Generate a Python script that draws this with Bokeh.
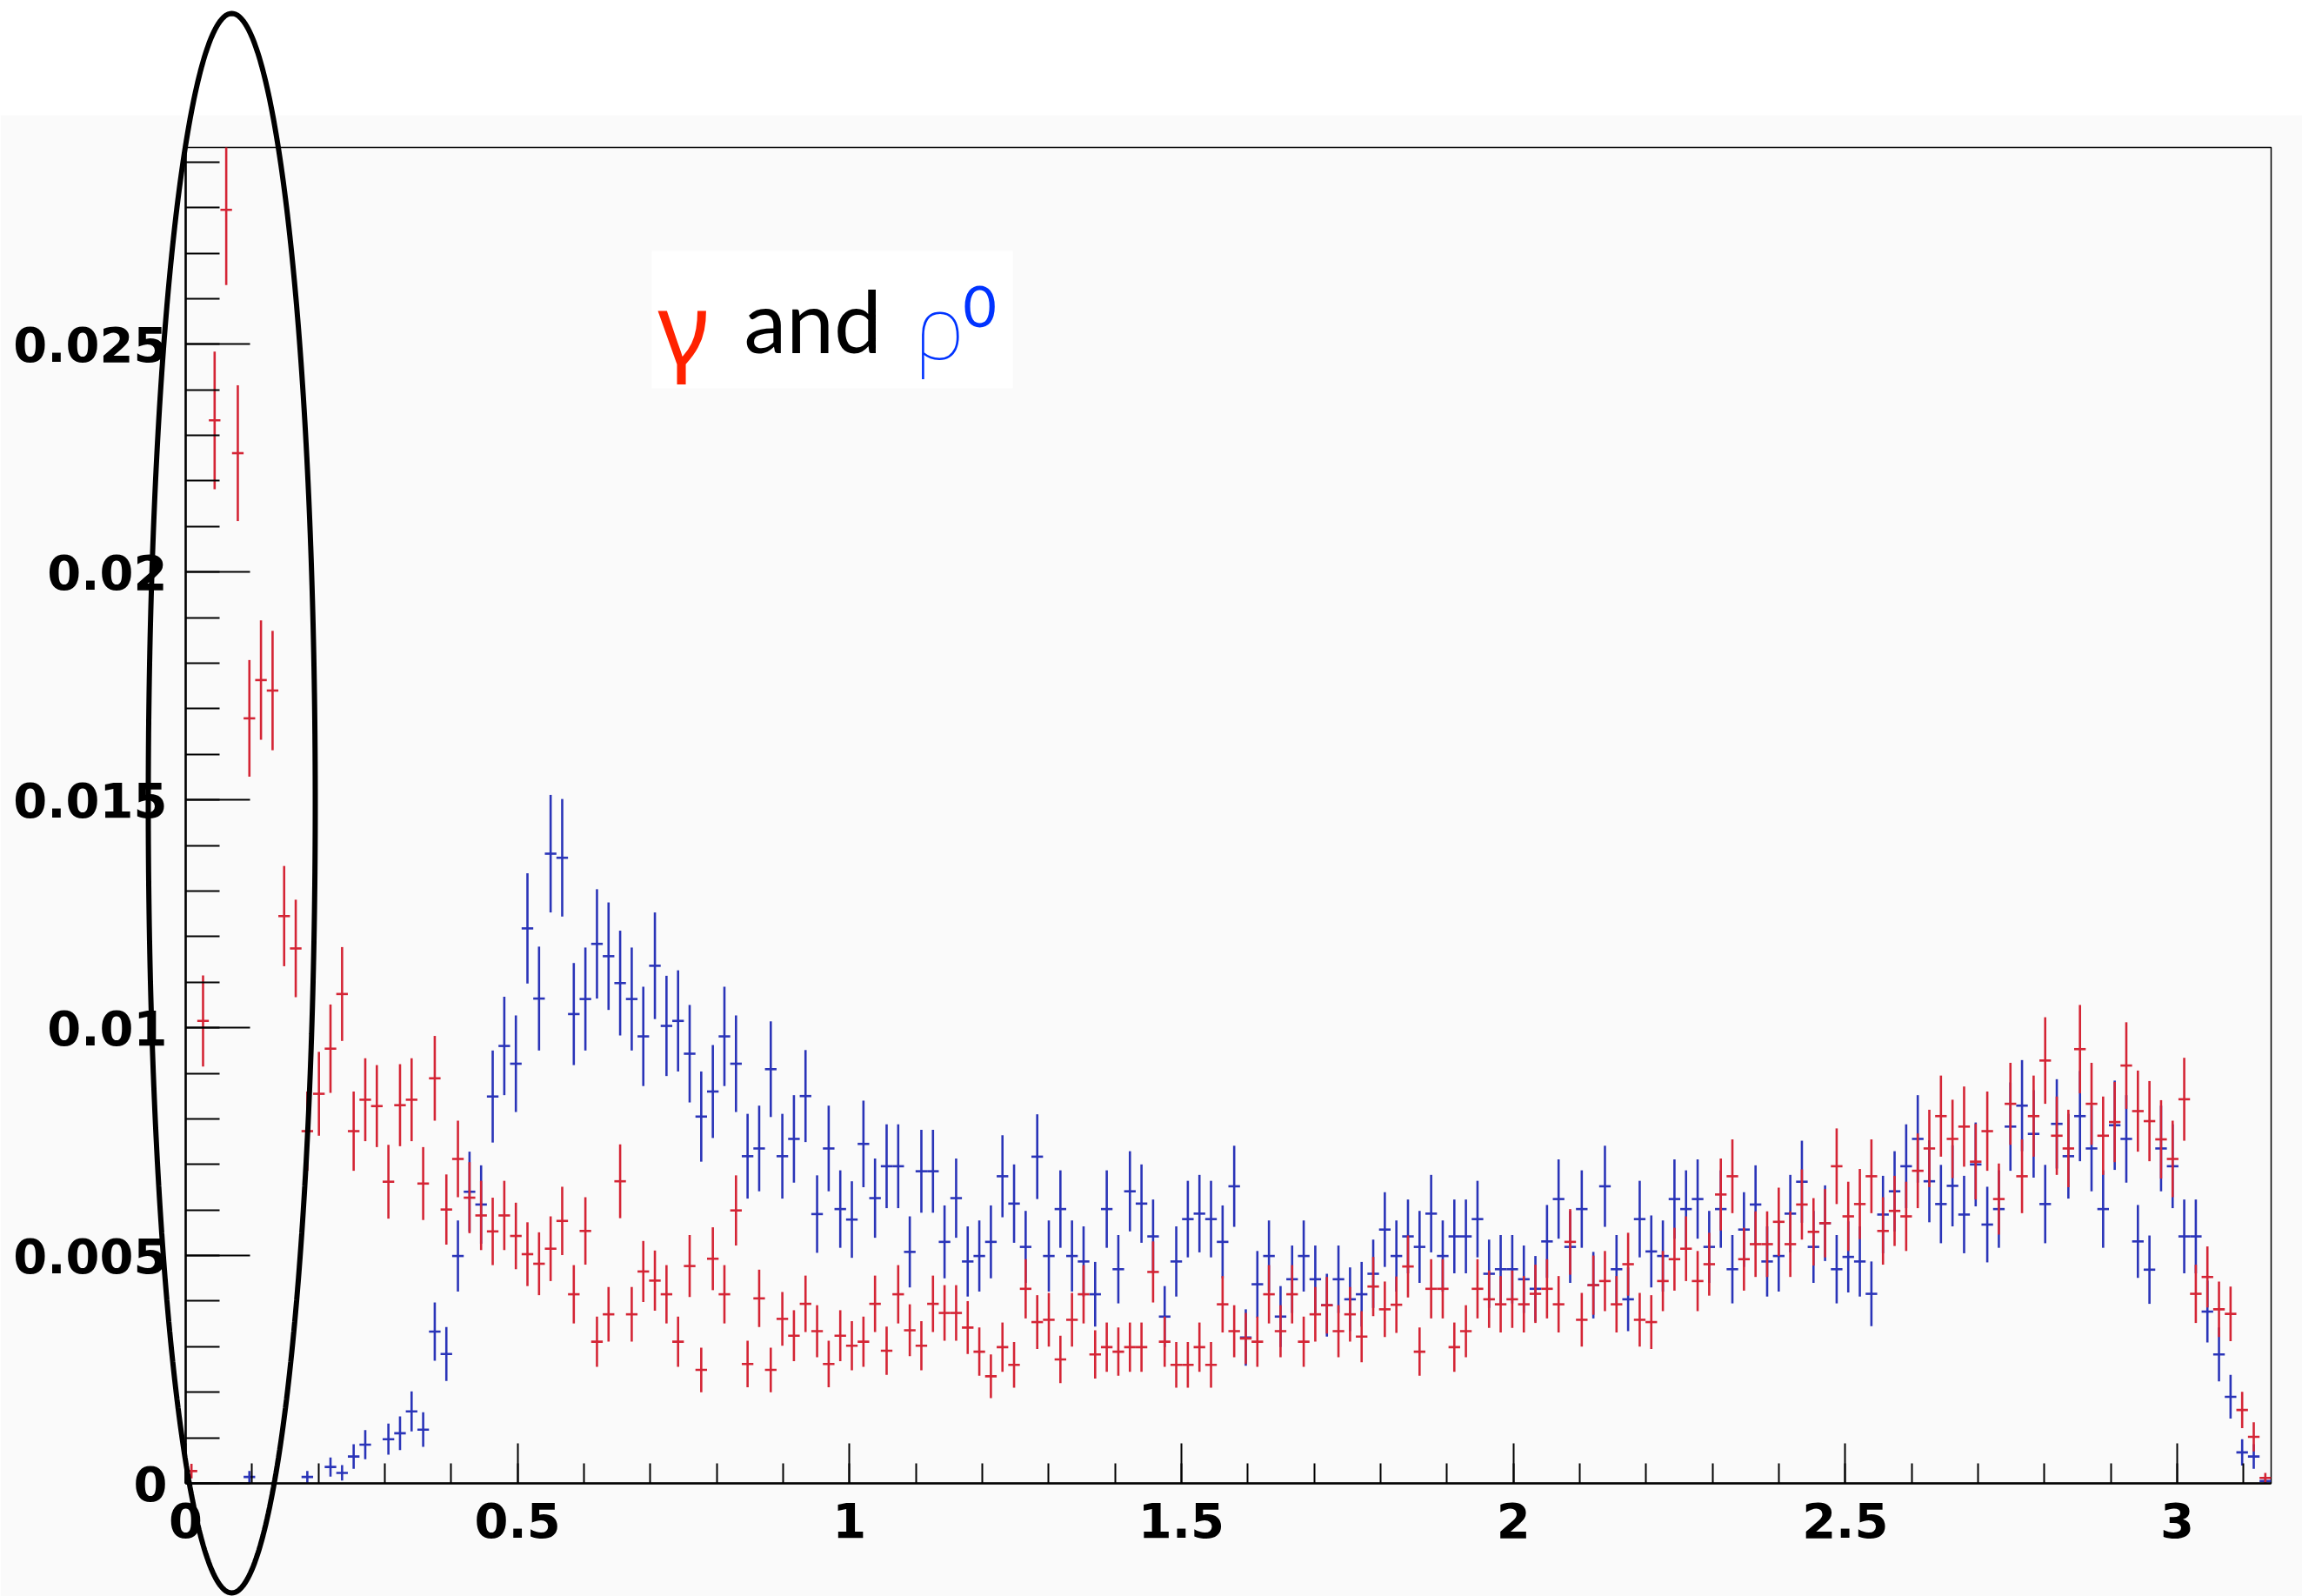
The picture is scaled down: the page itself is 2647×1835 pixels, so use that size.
import math
from bokeh.plotting import figure
from bokeh.models import (ColumnDataSource, Range1d, FixedTicker, CustomJSTickFormatter,
                          BoxAnnotation, Label)
from bokeh.embed import file_html
from bokeh.resources import INLINE

# ---------------- data (values and errors in units of 1e-5) ----------------
N_BINS = 180
X_MAX = math.pi
Y_MAX = 0.02932
UNIT = 1e-5

x_ticks = [0, 0.5, 1, 1.5, 2, 2.5, 3]
y_ticks = [0, 0.005, 0.01, 0.015, 0.02, 0.025]
x_minor = [round(0.1 * i, 1) for i in range(32)]
y_minor = [round(0.001 * i, 3) for i in range(30)]

gamma_vals = [
    27, 1015, 2333, 2795, 2261, 1679, 1763, 1740, 1245, 1174,
    773, 855, 954, 1074, 773, 842, 828, 662, 830, 842,
    658, 889, 601, 712, 627, 588, 553, 588, 543, 503,
    482, 515, 576, 415, 554, 311, 371, 663, 371, 465,
    445, 415, 311, 477, 249, 493, 415, 599, 262, 406,
    249, 361, 324, 394, 334, 262, 324, 302, 311, 394,
    291, 415, 336, 302, 394, 374, 374, 342, 289, 235,
    299, 260, 427, 354, 359, 272, 359, 415, 283, 299,
    289, 299, 299, 464, 311, 260, 260, 299, 260, 393,
    334, 318, 311, 415, 334, 415, 311, 371, 391, 334,
    371, 322, 432, 382, 392, 476, 289, 427, 427, 299,
    334, 427, 404, 393, 404, 393, 416, 427, 393, 530,
    359, 435, 444, 393, 481, 359, 354, 444, 492, 515,
    444, 481, 634, 674, 492, 525, 525, 574, 525, 612,
    552, 571, 696, 586, 613, 674, 554, 598, 586, 686,
    735, 806, 756, 783, 706, 773, 624, 833, 674, 806,
    928, 763, 735, 953, 833, 763, 793, 917, 817, 795,
    755, 712, 843, 416, 453, 382, 372, 161, 102, 12,
]
gamma_errs = [
    16, 100, 151, 165, 149, 128, 131, 131, 110, 107,
    87, 92, 97, 103, 87, 91, 90, 81, 90, 91,
    80, 93, 77, 84, 78, 76, 74, 76, 73, 70,
    69, 71, 75, 64, 74, 55, 60, 81, 60, 67,
    66, 64, 55, 68, 49, 69, 64, 77, 51, 63,
    49, 59, 56, 62, 57, 51, 56, 54, 55, 62,
    53, 64, 57, 54, 62, 61, 61, 58, 53, 48,
    54, 50, 65, 59, 59, 52, 59, 64, 53, 54,
    53, 54, 54, 67, 55, 50, 50, 54, 50, 62,
    57, 56, 55, 64, 57, 64, 55, 60, 62, 57,
    60, 56, 65, 61, 62, 68, 53, 65, 65, 54,
    57, 65, 63, 62, 63, 62, 64, 65, 62, 72,
    59, 65, 66, 62, 69, 59, 59, 66, 69, 71,
    66, 69, 79, 81, 69, 72, 72, 75, 72, 77,
    74, 75, 83, 76, 77, 81, 74, 77, 76, 82,
    85, 89, 86, 88, 83, 87, 78, 90, 81, 89,
    95, 86, 85, 97, 90, 86, 88, 95, 89, 88,
    86, 84, 91, 64, 67, 61, 60, 40, 32, 11,
]
rho_vals = [
    0, 0, 0, 0, 0, 14, 0, 0, 0, 0,
    14, 0, 36, 23, 59, 85, 0, 97, 110, 158,
    118, 333, 284, 499, 640, 612, 849, 960, 921, 1218,
    1064, 1382, 1373, 1030, 1063, 1184, 1157, 1098, 1063, 981,
    1136, 1004, 1015, 943, 805, 860, 981, 921, 718, 735,
    909, 718, 756, 850, 591, 735, 602, 579, 745, 626,
    696, 696, 508, 685, 685, 530, 626, 487, 499, 530,
    674, 614, 519, 717, 499, 602, 499, 487, 415, 602,
    470, 641, 614, 542, 366, 487, 580, 592, 580, 530,
    652, 320, 437, 499, 366, 448, 499, 448, 391, 448,
    404, 415, 460, 557, 499, 542, 519, 592, 499, 542,
    542, 580, 460, 470, 470, 448, 427, 531, 624, 519,
    602, 435, 652, 470, 404, 580, 509, 499, 624, 602,
    624, 519, 602, 470, 557, 612, 487, 499, 592, 662,
    519, 571, 470, 497, 487, 416, 590, 641, 696, 756,
    663, 613, 653, 590, 700, 568, 602, 783, 829, 767,
    613, 789, 718, 806, 735, 602, 786, 756, 531, 469,
    735, 696, 542, 542, 377, 283, 190, 68, 59, 5,
]
rho_errs = [
    0, 0, 0, 0, 0, 13, 0, 0, 0, 0,
    13, 0, 21, 17, 27, 32, 0, 34, 37, 44,
    38, 64, 59, 78, 88, 86, 101, 108, 106, 121,
    114, 129, 129, 112, 113, 120, 118, 115, 113, 109,
    117, 110, 111, 107, 99, 102, 109, 106, 93, 94,
    105, 93, 96, 101, 85, 94, 85, 84, 95, 87,
    92, 92, 78, 91, 91, 80, 87, 77, 78, 80,
    90, 86, 79, 93, 78, 85, 78, 77, 71, 85,
    75, 88, 86, 81, 67, 77, 84, 85, 84, 80,
    89, 62, 73, 78, 67, 74, 78, 74, 69, 74,
    70, 71, 75, 82, 78, 81, 79, 85, 78, 81,
    81, 84, 75, 75, 75, 74, 72, 80, 87, 79,
    85, 73, 89, 75, 70, 84, 79, 78, 87, 85,
    87, 79, 85, 75, 82, 86, 77, 78, 85, 90,
    79, 83, 75, 78, 77, 71, 85, 88, 92, 96,
    90, 86, 89, 85, 92, 83, 85, 97, 100, 96,
    86, 98, 93, 99, 94, 85, 98, 96, 80, 75,
    94, 92, 81, 81, 68, 59, 48, 29, 27, 8,
]

# ---------------- layout geometry (canvas pixels) ----------------
W, H = 2647, 1835
FL, FR, FT, FB = 213, 2611, 169, 1705
BG = "#fafafa"
RED = "#d42535"
BLUE = "#2a34b8"


def dx(px):
    return (px - FL) / (FR - FL) * X_MAX


def dy(py):
    return (FB - py) / (FB - FT) * Y_MAX


p = figure(width=W, height=H, output_backend="svg", toolbar_location=None,
           x_range=Range1d(0, X_MAX), y_range=Range1d(0, Y_MAX),
           min_border_left=FL, min_border_right=W - FR,
           min_border_top=FT, min_border_bottom=H - FB,
           background_fill_color=BG, border_fill_color=BG)
p.grid.visible = False
p.outline_line_color = "black"
p.outline_line_width = 1.5

# white box behind the legend text
p.add_layout(BoxAnnotation(left=dx(749), right=dx(1164), top=dy(288), bottom=dy(446),
                           fill_color="white", fill_alpha=1.0, line_color=None,
                           level="underlay"))

bw = X_MAX / N_BINS


def make_source(vals, errs):
    xc, yc, y0, y1, x0, x1 = [], [], [], [], [], []
    for i, (v, e) in enumerate(zip(vals, errs)):
        if v == 0 and e == 0:
            continue
        c = (i + 0.5) * bw
        xc.append(c)
        yc.append(v * UNIT)
        y0.append((v - e) * UNIT)
        y1.append((v + e) * UNIT)
        x0.append(c - bw / 2)
        x1.append(c + bw / 2)
    return ColumnDataSource(dict(x=xc, y=yc, y0=y0, y1=y1, x0=x0, x1=x1))


for vals, errs, col in ((rho_vals, rho_errs, BLUE), (gamma_vals, gamma_errs, RED)):
    src = make_source(vals, errs)
    p.segment(x0="x", y0="y0", x1="x", y1="y1", source=src, line_color=col, line_width=2.6)
    p.segment(x0="x0", y0="y", x1="x1", y1="y", source=src, line_color=col, line_width=2.6)

fmt = CustomJSTickFormatter(code="return Number(tick.toFixed(4)).toString();")

xa = p.xaxis[0]
xa.ticker = FixedTicker(ticks=x_ticks, minor_ticks=x_minor)
xa.formatter = fmt
xa.major_tick_in, xa.major_tick_out = 46, 0
xa.minor_tick_in, xa.minor_tick_out = 23, 0
xa.major_label_standoff = 22

ya = p.yaxis[0]
ya.ticker = FixedTicker(ticks=y_ticks, minor_ticks=y_minor)
ya.formatter = fmt
ya.major_tick_in, ya.major_tick_out = 74, 0
ya.minor_tick_in, ya.minor_tick_out = 39, 0
ya.major_label_standoff = 21

for ax in (xa, ya):
    ax.axis_line_width = 2.5
    ax.axis_line_color = "black"
    ax.major_tick_line_width = 2
    ax.minor_tick_line_width = 2
    ax.major_tick_line_color = "black"
    ax.minor_tick_line_color = "black"
    ax.major_label_text_font = "DejaVu Sans"
    ax.major_label_text_font_style = "bold"
    ax.major_label_text_font_size = "56px"
    ax.major_label_text_color = "black"

# legend-like text
p.add_layout(Label(x=dx(756), y=dy(373), text="γ", text_color="#ff2200",
                   text_font="Noto Sans", text_font_size="114px",
                   text_align="left", text_baseline="alphabetic"))
p.add_layout(Label(x=dx(855), y=dy(367), text="and", text_color="black",
                   text_font="Lato", text_font_size="98px",
                   text_align="left", text_baseline="alphabetic"))
p.add_layout(Label(x=dx(1052), y=dy(373), text="ρ", text_color="#0033ff",
                   text_font="Noto Sans", text_font_size="100px",
                   text_align="left", text_baseline="alphabetic"))
p.add_layout(Label(x=dx(1107), y=dy(352), text="0", text_color="#0033ff",
                   text_font="Lato", text_font_size="66px",
                   text_align="left", text_baseline="alphabetic"))

# ---------------- transparent overlay: white page strip + highlight ellipse ----------------
ov = figure(width=W, height=H, output_backend="svg", toolbar_location=None,
            x_range=Range1d(dx(0), dx(W)), y_range=Range1d(dy(H), dy(0)),
            min_border=0, margin=(-H, 0, 0, 0),
            background_fill_color="white", background_fill_alpha=0.0,
            border_fill_color="white", border_fill_alpha=0.0)
ov.axis.visible = False
ov.grid.visible = False
ov.outline_line_alpha = 0.0
ov.quad(left=dx(-20), right=dx(W + 20), top=dy(-20), bottom=dy(132),
        fill_color="white", line_color=None)
cx, cy, ax_px, ay_px = 266, 923, 96, 908
n = 360
ex = [dx(cx + ax_px * math.cos(2 * math.pi * k / n)) for k in range(n + 1)]
ey = [dy(cy + ay_px * math.sin(2 * math.pi * k / n)) for k in range(n + 1)]
ov.line(ex, ey, line_color="black", line_width=6)

open("out.html", "w").write(file_html([p, ov], INLINE, title="gamma and rho0"))
